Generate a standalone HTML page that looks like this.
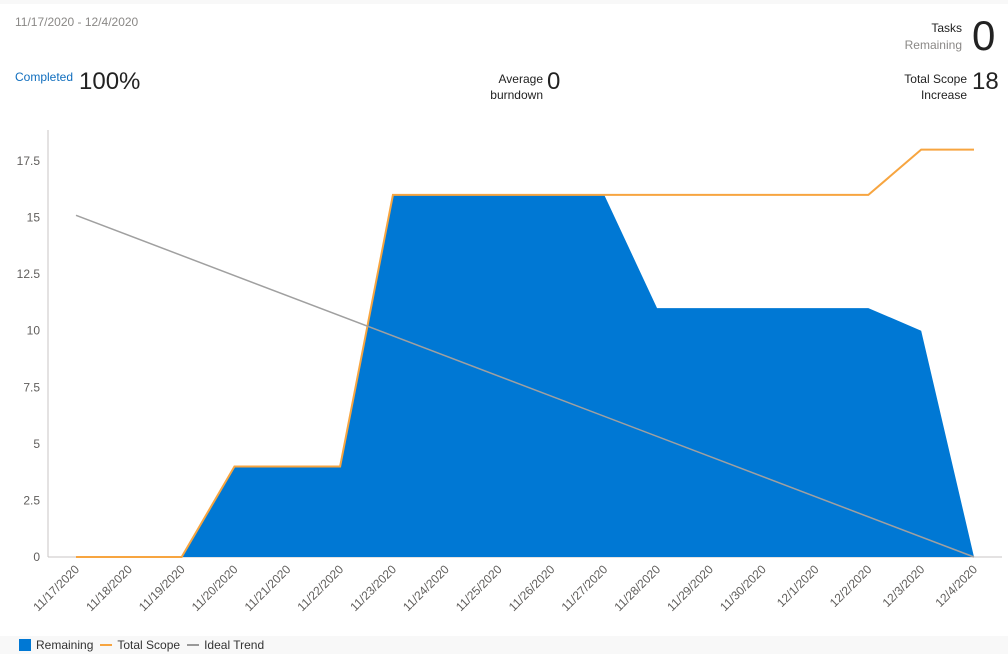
<!DOCTYPE html>
<html><head><meta charset="utf-8"><style>
body{margin:0;width:1008px;height:654px;background:#f8f8f8;font-family:"Liberation Sans",sans-serif;overflow:hidden;position:relative}
.card{position:absolute;left:0;top:4px;width:1008px;height:632px;background:#fff}
.t{position:absolute;white-space:nowrap}
</style></head><body>
<div class="card"></div>
<div class="t" style="left:15px;top:15px;font-size:12px;color:#8a8886">11/17/2020 - 12/4/2020</div>
<div class="t" style="right:46px;top:20px;font-size:12px;color:#222;text-align:right;line-height:17px">Tasks<br><span style="color:#8a8886">Remaining</span></div>
<div class="t" style="left:972px;top:12px;font-size:42px;color:#222;font-weight:300">0</div>
<div class="t" style="left:15px;top:70px;font-size:12px;color:#106ebe">Completed</div>
<div class="t" style="left:79px;top:68px;font-size:24px;color:#222">100%</div>
<div class="t" style="right:465px;top:71px;font-size:12px;color:#222;text-align:right;line-height:16px">Average<br>burndown</div>
<div class="t" style="left:547px;top:68px;font-size:24px;color:#222">0</div>
<div class="t" style="right:41px;top:71px;font-size:12px;color:#222;text-align:right;line-height:16px">Total Scope<br>Increase</div>
<div class="t" style="left:972px;top:68px;font-size:24px;color:#222">18</div>
<svg id="chart" width="1008" height="654" style="position:absolute;left:0;top:0"></svg>
<div class="t" style="left:19px;top:638px;font-size:12px;color:#333;display:flex;align-items:center">
<span style="width:12px;height:12px;background:#0078d4;display:inline-block;margin-right:5px"></span><span>Remaining</span>
<span style="width:12px;height:2px;background:#f7a540;display:inline-block;margin:0 5px 0 7px"></span><span>Total Scope</span>
<span style="width:12px;height:2px;background:#999;display:inline-block;margin:0 5px 0 7px"></span><span>Ideal Trend</span>
</div>
<script>
const dates=["11/17/2020","11/18/2020","11/19/2020","11/20/2020","11/21/2020","11/22/2020","11/23/2020","11/24/2020","11/25/2020","11/26/2020","11/27/2020","11/28/2020","11/29/2020","11/30/2020","12/1/2020","12/2/2020","12/3/2020","12/4/2020"];
const remaining=[null,null,0,4,4,4,16,16,16,16,16,11,11,11,11,11,10,0];
const totalScope=[0,0,0,4,4,4,16,16,16,16,16,16,16,16,16,16,18,18];
const idealStart=15.1;
const idealEnd=0;
const yTicks=[0,2.5,5,7.5,10,12.5,15,17.5];
const yTickLabels=["0","2.5","5","7.5","10","12.5","15","17.5"];
const NS="http://www.w3.org/2000/svg";
const svg=document.getElementById('chart');
const x0=76,x1=974,yBase=557,yPer=22.63;
const X=i=>x0+(x1-x0)*i/(dates.length-1);
const Y=v=>yBase-v*yPer;
function mk(t,a){const e=document.createElementNS(NS,t);for(const k in a)e.setAttribute(k,a[k]);svg.appendChild(e);return e;}
let ax=mk('line',{x1:48,y1:130,x2:48,y2:557,stroke:'#c8c6c4'});


let xa=mk('line',{x1:48,y1:557,x2:1002,y2:557,stroke:'#c8c6c4'});


yTicks.forEach((v,i)=>{
 const t=mk('text',{x:40,y:Y(v)+4,'text-anchor':'end','font-size':12,fill:'#605e5c','font-family':'Liberation Sans, sans-serif'});
 t.textContent=yTickLabels[i];
 
 
});
dates.forEach((d,i)=>{
 const t=mk('text',{x:X(i)+4,y:570,'text-anchor':'end','font-size':12,fill:'#605e5c','font-family':'Liberation Sans, sans-serif',transform:`rotate(-45 ${X(i)+4} 570)`});
 t.textContent=d;
 
 
});
let pts=[],first=-1,last=-1;
remaining.forEach((v,i)=>{if(v!==null){if(first<0)first=i;last=i;pts.push(X(i)+','+Y(v));}});
const area=mk('polygon',{points:X(first)+','+yBase+' '+pts.join(' ')+' '+X(last)+','+yBase,fill:'#0078d4'});


const sc=mk('polyline',{points:totalScope.map((v,i)=>X(i)+','+Y(v)).join(' '),fill:'none',stroke:'#f7a540','stroke-width':2});


const id=mk('line',{x1:X(0),y1:Y(idealStart),x2:X(dates.length-1),y2:Y(idealEnd),stroke:'#a0a0a0','stroke-width':1.5});


</script>
</body></html>
